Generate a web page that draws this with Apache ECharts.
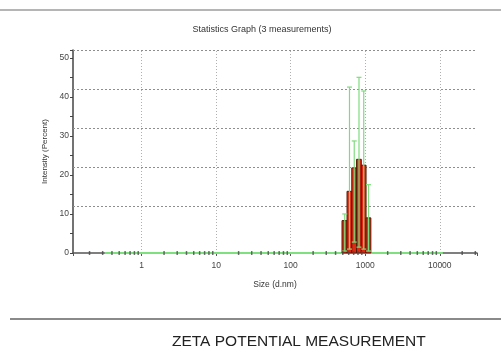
<!DOCTYPE html>
<html>
<head>
<meta charset="utf-8">
<script src="https://cdn.jsdelivr.net/npm/echarts@6/dist/echarts.min.js"></script>
<style>html,body{margin:0;padding:0;background:#fff;}#c{width:501px;height:350px;}</style>
</head>
<body>
<div id="c"></div>
<script>
// Size bins (d.nm): lower edge, upper edge, centre
const binLow = [488, 570, 660, 765, 886, 1026];
const binHigh = [570, 660, 765, 886, 1026, 1190];
const binCenter = [531, 615, 712, 825, 955, 1106];
// Mean intensity (%) and min / max over the 3 measurements
const meanIntensity = [8.3, 15.8, 21.8, 24.0, 22.5, 9.0];
const minIntensity = [0.5, 1.0, 2.8, 1.5, 1.0, 0.5];
const maxIntensity = [10.0, 42.5, 28.7, 45.0, 41.5, 17.5];
// Zero-level line extent
const baseLine = [[0.32, 0], [11000, 0]];
// Tick / grid values
const xDecades = [1, 10, 100, 1000, 10000];
const yGridValues = [12, 22, 32, 42, 52];
const minorMult = [2, 3, 4, 5, 6, 7, 8, 9];
const minorDecades = [0.1, 1, 10, 100, 1000, 10000];

const minorTicks = [];
minorDecades.forEach(d => minorMult.forEach(m => {
  const v = d * m;
  if (v > 0.12 && v < 31600) minorTicks.push([v, 0]);
}));

const barData = binLow.map((lo, i) => [lo, binHigh[i], meanIntensity[i]]);
const errData = binCenter.map((c, i) => [c, minIntensity[i], maxIntensity[i]]);

const chart = echarts.init(document.getElementById('c'), null, {renderer: 'canvas'});
const isDecade = v => Math.abs(Math.log10(v) - Math.round(Math.log10(v))) < 1e-6 && v >= 1;
const FONT = 'Liberation Sans';

chart.setOption({
  animation: false,
  backgroundColor: '#fff',
  title: {
    text: 'Statistics Graph (3 measurements)',
    left: 257, top: 20, textAlign: 'center',
    textStyle: {fontSize: 9, fontWeight: 'normal', color: '#333', fontFamily: FONT}
  },
  grid: {left: 73, right: 24, top: 50, bottom: 97},
  xAxis: {
    type: 'log', logBase: 10, min: 0.12, max: 31600, splitNumber: 5,
    name: 'Size (d.nm)', nameLocation: 'middle', nameGap: 27,
    nameTextStyle: {fontSize: 8.5, color: '#333', fontFamily: FONT},
    axisLine: {lineStyle: {color: '#555', width: 1.5}},
    axisTick: {show: true, length: 3, lineStyle: {color: '#555'}, interval: (i, v) => isDecade(v)},
    axisLabel: {fontSize: 8.5, color: '#444', margin: 8, fontFamily: FONT,
      formatter: v => isDecade(v) ? String(Math.round(v)) : ''},
    splitLine: {show: false}
  },
  yAxis: {
    type: 'value', min: 0, max: 52, interval: 10,
    name: 'Intensity (Percent)', nameLocation: 'middle', nameGap: 20,
    nameTextStyle: {fontSize: 8, color: '#333', fontFamily: FONT},
    axisLine: {show: true, lineStyle: {color: '#444', width: 1.5}},
    axisTick: {show: true, length: 3, lineStyle: {color: '#444'}},
    minorTick: {show: true, splitNumber: 2, length: 3, lineStyle: {color: '#444'}},
    axisLabel: {fontSize: 8.5, color: '#444', margin: 4, showMaxLabel: false, fontFamily: FONT},
    splitLine: {show: false}
  },
  series: [
    {
      type: 'line', data: baseLine, symbol: 'none', z: 3,
      lineStyle: {color: '#7fe07f', width: 2},
      markLine: {
        silent: true, symbol: 'none', label: {show: false}, z: 1,
        data: [
          ...yGridValues.map(v => ({yAxis: v, lineStyle: {color: '#8e8e8e', type: [2, 2], width: 1}})),
          ...xDecades.map(v => ({xAxis: v, lineStyle: {color: '#b0b0b0', type: [1, 2], width: 1}}))
        ]
      }
    },
    {
      type: 'custom', data: barData, z: 4,
      encode: {x: [0, 1], y: 2},
      renderItem: (params, api) => {
        const p1 = api.coord([api.value(0), api.value(2)]);
        const p2 = api.coord([api.value(1), 0]);
        return {
          type: 'rect',
          shape: {x: p1[0], y: p1[1], width: p2[0] - p1[0], height: p2[1] - p1[1]},
          style: {fill: '#dd2a12', stroke: '#5a1808', lineWidth: 1}
        };
      }
    },
    {
      type: 'custom', data: errData, z: 5,
      encode: {x: 0, y: [1, 2]},
      renderItem: (params, api) => {
        const lo = api.coord([api.value(0), api.value(1)]);
        const hi = api.coord([api.value(0), api.value(2)]);
        const st = {stroke: '#7edc7e', lineWidth: 1.2};
        return {
          type: 'group',
          children: [
            {type: 'line', shape: {x1: lo[0], y1: lo[1], x2: hi[0], y2: hi[1]}, style: st},
            {type: 'line', shape: {x1: hi[0] - 2.5, y1: hi[1], x2: hi[0] + 2.5, y2: hi[1]}, style: st},
            {type: 'line', shape: {x1: lo[0] - 2.5, y1: lo[1], x2: lo[0] + 2.5, y2: lo[1]}, style: st}
          ]
        };
      }
    },
    {
      type: 'scatter', data: minorTicks, z: 6, silent: true,
      symbol: 'rect', symbolSize: [1.5, 4],
      itemStyle: {color: '#4a4a4a'}
    }
  ],
  graphic: [
    {type: 'rect', shape: {x: 0, y: 9, width: 501, height: 2}, style: {fill: '#b5b5b5'}},
    {type: 'rect', shape: {x: 10, y: 318, width: 491, height: 2}, style: {fill: '#8a8a8a'}},
    {type: 'text', left: 172, top: 334,
      style: {text: 'ZETA POTENTIAL MEASUREMENT', fontSize: 15.5, fill: '#222', fontFamily: FONT}}
  ]
});
</script>
</body>
</html>
